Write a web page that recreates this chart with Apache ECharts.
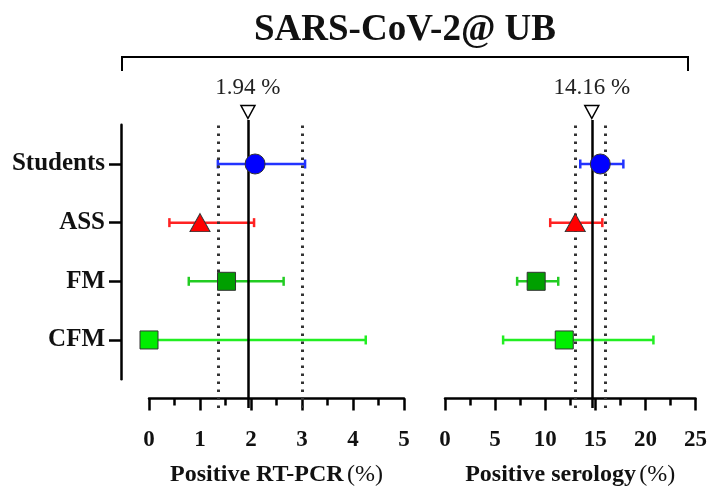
<!DOCTYPE html>
<html><head><meta charset="utf-8">
<script src="https://cdn.jsdelivr.net/npm/echarts@6/dist/echarts.min.js"></script>
<style>html,body{margin:0;padding:0;background:#fff}#c{width:710px;height:495px}</style>
</head><body><div id="c"></div>
<script>
// ---- data ----
const categories = ['Students', 'ASS', 'FM', 'CFM'];
const catPos = [4, 3, 2, 1];
const markerSymbols = ['circle', 'triangle', 'rect', 'rect'];
const markerColors = ['#0000ff', '#ff0000', '#00a000', '#00ee00'];
const barColors = ['#2233ff', '#ff2222', '#22cc22', '#22ee22'];

const pcrValue = [2.08, 1.0, 1.52, 0.0];
const pcrLow   = [1.35, 0.40, 0.78, 0.0];
const pcrHigh  = [3.06, 2.06, 2.64, 4.25];
const pcrOverall = 1.94;
const pcrOverallLabel = '1.94 %';
const pcrCI = [1.35, 3.0];

const serValue = [15.5, 13.0, 9.1, 11.9];
const serLow   = [13.5, 10.5, 7.2, 5.8];
const serHigh  = [17.8, 15.7, 11.3, 20.8];
const serOverall = 14.65;
const serOverallLabel = '14.16 %';
const serCI = [13.0, 16.0];

const pcrAxis = {min: 0, max: 5, interval: 1};
const serAxis = {min: 0, max: 25, interval: 5};

const SERIF = '"Liberation Serif", "DejaVu Serif", serif';
const yMin = -0.16, yMax = 4.75;

function points(vals) {
  return vals.map((v, i) => ({
    value: [v, catPos[i]],
    symbol: markerSymbols[i],
    symbolSize: markerSymbols[i] === 'circle' ? 20 : (markerSymbols[i] === 'triangle' ? [20, 18] : 18),
    itemStyle: {color: markerColors[i], borderColor: '#333', borderWidth: 1, opacity: 1}
  }));
}
function bars(lo, hi) {
  return lo.map((l, i) => [l, hi[i], catPos[i], i]);
}
function renderBar(params, api) {
  const p1 = api.coord([api.value(0), api.value(2)]);
  const p2 = api.coord([api.value(1), api.value(2)]);
  const c = barColors[api.value(3)];
  const st = {stroke: c, lineWidth: 2.5, fill: null};
  const h = 4.5;
  return {type: 'group', children: [
    {type: 'line', shape: {x1: p1[0], y1: p1[1], x2: p2[0], y2: p2[1]}, style: st},
    {type: 'line', shape: {x1: p1[0], y1: p1[1] - h, x2: p1[0], y2: p1[1] + h}, style: st},
    {type: 'line', shape: {x1: p2[0], y1: p2[1] - h, x2: p2[0], y2: p2[1] + h}, style: st}
  ]};
}
function refLines(overall, ci) {
  return {
    silent: true, symbol: 'none', label: {show: false},
    data: [
      {xAxis: overall, lineStyle: {color: '#000', width: 2.5, type: 'solid'}},
      {xAxis: ci[0], lineStyle: {color: '#333', width: 3, type: [2.5, 5.5]}},
      {xAxis: ci[1], lineStyle: {color: '#333', width: 3, type: [2.5, 5.5]}}
    ]
  };
}
function refMark(overall, label) {
  return {
    silent: true,
    data: [{coord: [overall, yMax], symbol: 'triangle', symbolRotate: 180, symbolSize: [14, 13],
      symbolOffset: [0, -8],
      itemStyle: {color: '#fff', borderColor: '#000', borderWidth: 1.5},
      label: {show: true, position: 'top', distance: 5, formatter: label,
        fontFamily: SERIF, fontSize: 23, color: '#222'}}]
  };
}
function xAxisCfg(grid, ax, name) {
  return {
    gridIndex: grid, type: 'value', min: ax.min, max: ax.max, interval: ax.interval,
    axisLine: {show: true, lineStyle: {color: '#000', width: 2.5}},
    axisTick: {show: true, length: 12, lineStyle: {color: '#000', width: 2.5}},
    minorTick: {show: true, splitNumber: 2, length: 7, lineStyle: {color: '#000', width: 2.5}},
    splitLine: {show: false},
    axisLabel: {margin: 21, fontFamily: SERIF, fontWeight: 'bold', fontSize: 23, color: '#111'},
    name: '{b|' + name + '} {r|(%)}', nameLocation: 'middle', nameGap: 55,
    nameTextStyle: {rich: {
      b: {fontFamily: SERIF, fontWeight: 'bold', fontSize: 24, color: '#111'},
      r: {fontFamily: SERIF, fontSize: 24, color: '#111'}
    }}
  };
}
const hiddenY = (g) => ({gridIndex: g, type: 'value', min: yMin, max: yMax, show: false});

const option = {
  animation: false,
  backgroundColor: '#fff',
  grid: [
    {left: 149, width: 255, top: 120, height: 288},
    {left: 445, width: 254, top: 120, height: 288},
    {left: 121, width: 10, top: 124.7, height: 254.6}
  ],
  xAxis: [
    xAxisCfg(0, pcrAxis, 'Positive RT-PCR'),
    xAxisCfg(1, serAxis, 'Positive serology'),
    {gridIndex: 2, type: 'value', show: false, min: 0, max: 1}
  ],
  yAxis: [
    hiddenY(0), hiddenY(1),
    {gridIndex: 2, type: 'value', min: 0.33, max: 4.67,
      axisLine: {show: true, lineStyle: {color: '#000', width: 2.5}},
      axisTick: {show: true, length: 12, customValues: catPos, lineStyle: {color: '#000', width: 2.5}},
      splitLine: {show: false},
      axisLabel: {customValues: catPos, margin: 16,
        formatter: v => categories[catPos.indexOf(v)],
        fontFamily: SERIF, fontWeight: 'bold', fontSize: 25, color: '#111'}}
  ],
  series: [
    {type: 'custom', xAxisIndex: 0, yAxisIndex: 0, renderItem: renderBar,
      encode: {x: [0, 1], y: 2}, data: bars(pcrLow, pcrHigh), z: 3,
      markLine: refLines(pcrOverall, pcrCI), markPoint: refMark(pcrOverall, pcrOverallLabel)},
    {type: 'scatter', xAxisIndex: 0, yAxisIndex: 0, data: points(pcrValue), z: 5},
    {type: 'custom', xAxisIndex: 1, yAxisIndex: 1, renderItem: renderBar,
      encode: {x: [0, 1], y: 2}, data: bars(serLow, serHigh), z: 3,
      markLine: refLines(serOverall, serCI), markPoint: refMark(serOverall, serOverallLabel)},
    {type: 'scatter', xAxisIndex: 1, yAxisIndex: 1, data: points(serValue), z: 5}
  ],
  graphic: [
    {type: 'text', x: 405, y: 30, style: {text: 'SARS-CoV-2@ UB', font: 'bold 37px ' + SERIF,
      fill: '#111', textAlign: 'center', textVerticalAlign: 'middle'}},
    {type: 'polyline', shape: {points: [[122, 71], [122, 57], [688, 57], [688, 71]]},
      style: {stroke: '#000', lineWidth: 2, fill: null}}
  ]
};
echarts.init(document.getElementById('c')).setOption(option);
</script></body></html>
